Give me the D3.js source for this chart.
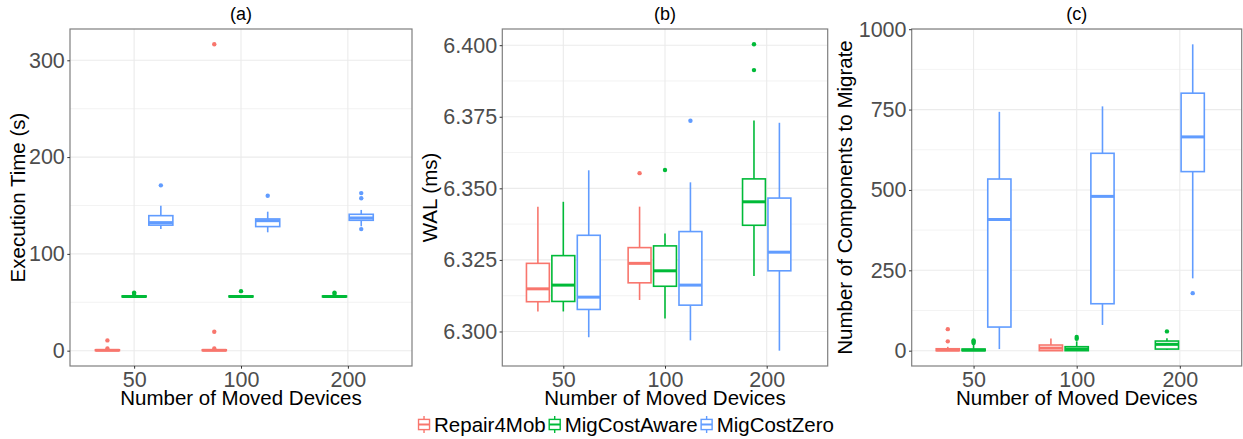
<!DOCTYPE html>
<html><head><meta charset="utf-8">
<script src="https://cdn.jsdelivr.net/npm/d3@7"></script>
<style>body{margin:0;background:#fff}svg{display:block;font-family:"Liberation Sans",Arial,sans-serif}</style>
</head><body><svg id="c" width="1243" height="439"></svg>
<script>
// ---------- DATA ----------
const groups = ["Repair4Mob", "MigCostAware", "MigCostZero"];
const devices = ["50", "100", "200"];
const xTitle = "Number of Moved Devices";

// [group, devices, lowerWhisker, q1, median, q3, upperWhisker]
const timeBoxes = [
  ["Repair4Mob","50", 0, 0.1, 0.4, 0.9, 1.6],
  ["Repair4Mob","100", 0, 0.1, 0.4, 0.9, 1.6],
  ["MigCostAware","50", 55, 55.6, 56, 56.5, 57.5],
  ["MigCostAware","100", 55, 55.6, 56, 56.5, 57.5],
  ["MigCostAware","200", 55, 55.6, 56, 56.5, 57.5],
  ["MigCostZero","50", 125.8, 129.7, 132.3, 139.5, 149.8],
  ["MigCostZero","100", 122.3, 128.2, 134.3, 136.1, 143.6],
  ["MigCostZero","200", 128.5, 134.7, 137.1, 140.9, 145.4]
];
const timeOutliers = [
  ["Repair4Mob","50",2.2],["Repair4Mob","50",10.6],
  ["Repair4Mob","100",2.2],["Repair4Mob","100",19.6],["Repair4Mob","100",316.5],
  ["MigCostAware","50",58.5],["MigCostAware","50",60],["MigCostAware","100",61.5],
  ["MigCostAware","200",58.5],["MigCostAware","200",60],
  ["MigCostZero","50",170.8],["MigCostZero","100",160.1],
  ["MigCostZero","200",125.6],["MigCostZero","200",157.5],["MigCostZero","200",162.8]
];
const timeTicks = [0, 100, 200, 300];

const walBoxes = [
  ["Repair4Mob","50", 6.3070, 6.3104, 6.3149, 6.3238, 6.3436],
  ["Repair4Mob","100", 6.3110, 6.3170, 6.3238, 6.3293, 6.3436],
  ["MigCostAware","50", 6.3070, 6.3105, 6.3162, 6.3265, 6.3453],
  ["MigCostAware","100", 6.3045, 6.3158, 6.3212, 6.3299, 6.3342],
  ["MigCostAware","200", 6.3194, 6.3371, 6.3453, 6.3533, 6.3737],
  ["MigCostZero","50", 6.2980, 6.3077, 6.3120, 6.3336, 6.3563],
  ["MigCostZero","100", 6.2969, 6.3092, 6.3162, 6.3349, 6.3521],
  ["MigCostZero","200", 6.2933, 6.3212, 6.3277, 6.3466, 6.3729]
];
const walOutliers = [
  ["Repair4Mob","100",6.3553],["MigCostAware","100",6.3564],["MigCostZero","100",6.3736],
  ["MigCostAware","200",6.4003],["MigCostAware","200",6.3913]
];
const walTicks = [6.300, 6.325, 6.350, 6.375, 6.400];

const compBoxes = [
  ["Repair4Mob","50", 0, 0, 2, 6, 12],
  ["Repair4Mob","100", 0, 0, 8, 17.6, 38],
  ["MigCostAware","50", 0, 0, 2, 5, 20],
  ["MigCostAware","100", 0, 0, 5, 12.4, 29],
  ["MigCostAware","200", 2, 5, 19.7, 30, 39],
  ["MigCostZero","50", 5, 73.5, 408, 534, 743],
  ["MigCostZero","100", 80, 146, 480, 614, 760],
  ["MigCostZero","200", 225, 557, 665, 801, 953]
];
const compOutliers = [
  ["Repair4Mob","50",29],["Repair4Mob","50",67],
  ["MigCostAware","50",24],["MigCostAware","50",28],["MigCostAware","50",32],
  ["MigCostAware","100",37],["MigCostAware","100",42.5],
  ["MigCostAware","200",60],["MigCostZero","200",179]
];
const compTicks = [0, 250, 500, 750, 1000];

// ---------- STYLE / LAYOUT ----------
const colors = d3.scaleOrdinal().domain(groups).range(["#F8766D", "#00BA38", "#619CFF"]);
const svg = d3.select("#c");
const pTop = 29, pBottom = 366;
const lw = 1.6, mw = 3;

const panels = [
  {title:"(a)", ylab:"Execution Time (s)", boxes:timeBoxes, outs:timeOutliers, ticks:timeTicks, fmt:d3.format("d"), left:70, right:412, ytx:25},
  {title:"(b)", ylab:"WAL (ms)", boxes:walBoxes, outs:walOutliers, ticks:walTicks, fmt:d3.format(".3f"), left:502.3, right:827.7, ytx:437},
  {title:"(c)", ylab:"Number of Components to Migrate", boxes:compBoxes, outs:compOutliers, ticks:compTicks, fmt:d3.format("d"), left:911.7, right:1241.7, ytx:852}
];

panels.forEach(p => {
  const g = svg.append("g");
  const vals = p.boxes.flatMap(b => [b[2], b[6]]).concat(p.outs.map(o => o[2]));
  const [mn, mx] = d3.extent(vals);
  const pad = (mx - mn) * 0.05;
  const y = d3.scaleLinear().domain([mn - pad, mx + pad]).range([pBottom, pTop]);
  const x = d3.scalePoint().domain(devices).range([p.left, p.right]).padding(0.6);
  const step = x.step();

  // grid
  const minor = d3.pairs(p.ticks).map(([a, b]) => (a + b) / 2);
  const lo = p.ticks[0] - (p.ticks[1] - p.ticks[0]) / 2;
  if (y(lo) < pBottom) minor.unshift(lo);
  const hi = p.ticks[p.ticks.length-1] + (p.ticks[1] - p.ticks[0]) / 2;
  if (y(hi) > pTop) minor.push(hi);
  g.selectAll(".mn").data(minor).join("line")
    .attr("x1", p.left).attr("x2", p.right).attr("y1", d => y(d)).attr("y2", d => y(d))
    .attr("stroke", "#ebebeb").attr("stroke-width", 0.6);
  g.selectAll(".mj").data(p.ticks).join("line")
    .attr("x1", p.left).attr("x2", p.right).attr("y1", d => y(d)).attr("y2", d => y(d))
    .attr("stroke", "#ebebeb").attr("stroke-width", 1.1);
  g.selectAll(".vx").data(devices).join("line")
    .attr("x1", d => x(d)).attr("x2", d => x(d)).attr("y1", pTop).attr("y2", pBottom)
    .attr("stroke", "#ebebeb").attr("stroke-width", 1.1);

  // dodge positions
  const dodge = 0.25 * step;
  const bw = dodge * 0.9;
  const cx = (grp, dev) => {
    const present = groups.filter(gg => p.boxes.some(b => b[0] === gg && b[1] === dev));
    const i = present.indexOf(grp), n = present.length;
    return x(dev) + (i - (n - 1) / 2) * dodge;
  };

  p.boxes.forEach(b => {
    const [grp, dev, wlo, q1, med, q3, whi] = b;
    const c = cx(grp, dev), col = colors(grp);
    const bg = g.append("g").attr("stroke", col).attr("fill", "none");
    bg.append("line").attr("x1", c).attr("x2", c).attr("y1", y(q3)).attr("y2", y(whi)).attr("stroke-width", lw);
    bg.append("line").attr("x1", c).attr("x2", c).attr("y1", y(q1)).attr("y2", y(wlo)).attr("stroke-width", lw);
    bg.append("rect").attr("x", c - bw/2).attr("width", bw)
      .attr("y", y(q3)).attr("height", Math.max(0, y(q1) - y(q3)))
      .attr("fill", "#fff").attr("stroke-width", lw);
    bg.append("line").attr("x1", c - bw/2).attr("x2", c + bw/2).attr("y1", y(med)).attr("y2", y(med)).attr("stroke-width", mw);
  });
  g.selectAll(".out").data(p.outs).join("circle")
    .attr("cx", d => cx(d[0], d[1])).attr("cy", d => y(d[2])).attr("r", 2.2)
    .attr("fill", d => colors(d[0]));

  // border
  g.append("rect").attr("x", p.left).attr("y", pTop).attr("width", p.right - p.left).attr("height", pBottom - pTop)
    .attr("fill", "none").attr("stroke", "#7f7f7f").attr("stroke-width", 1.2);

  // axes
  const ya = g.append("g").attr("transform", `translate(${p.left},0)`)
    .call(d3.axisLeft(y).tickValues(p.ticks).tickFormat(p.fmt).tickSize(2.7).tickPadding(2.5));
  const xa = g.append("g").attr("transform", `translate(0,${pBottom})`)
    .call(d3.axisBottom(x).tickSize(2.7).tickPadding(3));
  [ya, xa].forEach(a => {
    a.select(".domain").remove();
    a.selectAll(".tick line").attr("stroke", "#333");
    a.selectAll(".tick text").attr("fill", "#4d4d4d").style("font-size", "21.5px").style("font-family", "Liberation Sans, Arial, sans-serif");
  });

  // titles
  g.append("text").attr("x", (p.left + p.right) / 2).attr("y", 20).attr("text-anchor", "middle")
    .style("font-size", "18px").text(p.title);
  g.append("text").attr("x", (p.left + p.right) / 2).attr("y", 404.5).attr("text-anchor", "middle")
    .style("font-size", "20.5px").text(xTitle);
  g.append("text").attr("transform", `translate(${p.ytx},${(pTop + pBottom) / 2}) rotate(-90)`)
    .attr("text-anchor", "middle").style("font-size", "20.5px").text(p.ylab);
});

// legend
const lg = svg.append("g");
const items = groups.map(gname => {
  const it = lg.append("g");
  const col = colors(gname);
  const kw = 14, kh = 17;
  it.append("line").attr("x1", kw/2).attr("x2", kw/2).attr("y1", -kh/2).attr("y2", kh/2).attr("stroke", col).attr("stroke-width", 1.4);
  it.append("rect").attr("x", 1.5).attr("width", kw - 3).attr("y", -kh*0.3).attr("height", kh*0.6)
    .attr("fill", "#fff").attr("stroke", col).attr("stroke-width", 1.4);
  it.append("line").attr("x1", 1.5).attr("x2", kw - 1.5).attr("y1", 0).attr("y2", 0).attr("stroke", col).attr("stroke-width", 2);
  const t = it.append("text").attr("x", kw + 3).attr("y", 7.3).style("font-size", "20.5px").text(gname);
  const w = kw + 3 + t.node().getComputedTextLength() + 2;
  return {it, w};
});
const total = d3.sum(items, d => d.w);
let xs = 626.5 - total / 2;
items.forEach(d => { d.it.attr("transform", `translate(${xs},424.5)`); xs += d.w; });
</script></body></html>
